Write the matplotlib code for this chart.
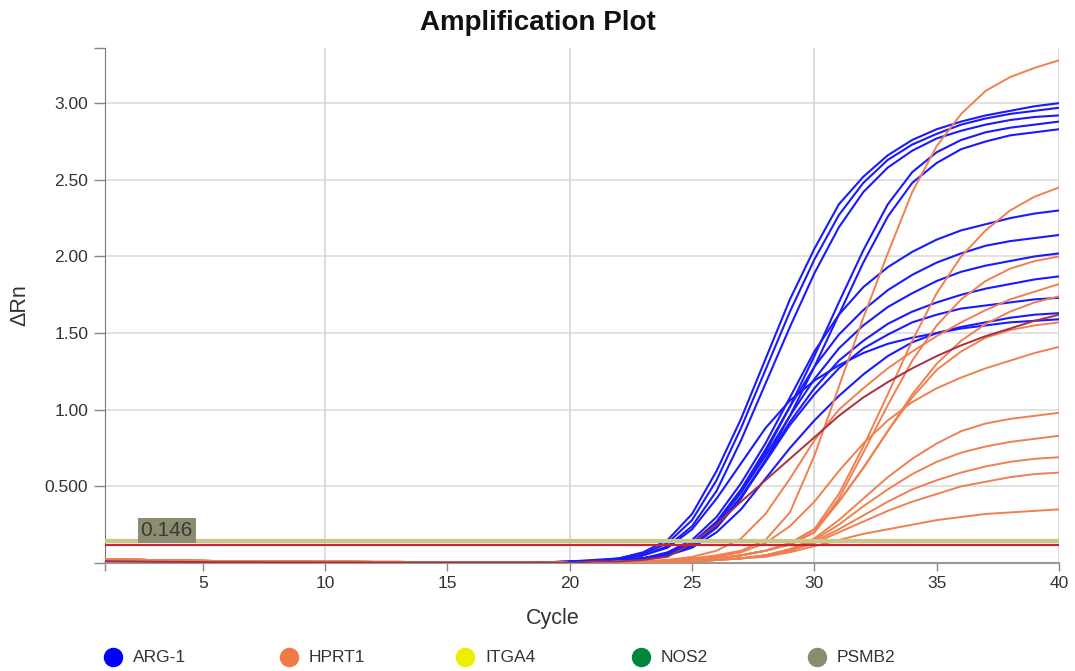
import numpy as np
import matplotlib
matplotlib.use('Agg')
import matplotlib.pyplot as plt
from matplotlib.lines import Line2D

plt.rcParams['font.family'] = ['Liberation Sans', 'DejaVu Sans']

# cycles 1..19 (flat baseline) and 20..40 (amplification)
early_cycles = list(range(1, 20))
late_cycles = list(range(20, 41))

early_blue = [0.012, 0.010, 0.008, 0.007, 0.006, 0.005, 0.005, 0.004, 0.004, 0.004,
              0.004, 0.003, 0.003, 0.003, 0.003, 0.003, 0.003, 0.003, 0.004]
early_orange = [0.025, 0.022, 0.019, 0.016, 0.014, 0.012, 0.011, 0.010, 0.009, 0.008,
                0.008, 0.007, 0.007, 0.006, 0.006, 0.005, 0.005, 0.005, 0.005]

# ARG-1 wells, cycles 20..40
arg1 = [
    [0.01, 0.02, 0.03, 0.07, 0.15, 0.32, 0.60, 0.94, 1.33, 1.72, 2.05, 2.34, 2.52, 2.66, 2.76, 2.83, 2.88, 2.92, 2.95, 2.98, 3.00],
    [0.01, 0.01, 0.03, 0.06, 0.13, 0.28, 0.54, 0.88, 1.26, 1.64, 1.98, 2.27, 2.48, 2.63, 2.73, 2.80, 2.86, 2.90, 2.93, 2.95, 2.97],
    [0.01, 0.01, 0.02, 0.05, 0.11, 0.24, 0.47, 0.80, 1.17, 1.54, 1.89, 2.19, 2.42, 2.58, 2.69, 2.77, 2.82, 2.86, 2.89, 2.91, 2.92],
    [0.00, 0.01, 0.02, 0.03, 0.06, 0.13, 0.26, 0.46, 0.72, 1.02, 1.35, 1.70, 2.04, 2.34, 2.55, 2.68, 2.76, 2.81, 2.84, 2.86, 2.88],
    [0.00, 0.01, 0.01, 0.03, 0.05, 0.11, 0.23, 0.42, 0.67, 0.96, 1.28, 1.62, 1.96, 2.26, 2.48, 2.61, 2.70, 2.75, 2.79, 2.81, 2.83],
    [0.00, 0.01, 0.02, 0.03, 0.07, 0.15, 0.30, 0.52, 0.78, 1.08, 1.38, 1.62, 1.80, 1.93, 2.03, 2.11, 2.17, 2.21, 2.25, 2.28, 2.30],
    [0.00, 0.01, 0.02, 0.03, 0.06, 0.13, 0.27, 0.48, 0.74, 1.02, 1.28, 1.49, 1.65, 1.78, 1.88, 1.96, 2.02, 2.07, 2.10, 2.12, 2.14],
    [0.00, 0.01, 0.01, 0.03, 0.06, 0.13, 0.26, 0.46, 0.70, 0.96, 1.20, 1.40, 1.55, 1.67, 1.76, 1.84, 1.90, 1.94, 1.97, 2.00, 2.02],
    [0.00, 0.01, 0.01, 0.03, 0.06, 0.12, 0.24, 0.43, 0.67, 0.92, 1.14, 1.32, 1.45, 1.56, 1.64, 1.70, 1.75, 1.79, 1.82, 1.85, 1.87],
    [0.00, 0.01, 0.01, 0.03, 0.06, 0.12, 0.24, 0.43, 0.66, 0.90, 1.10, 1.27, 1.40, 1.49, 1.57, 1.62, 1.66, 1.68, 1.70, 1.72, 1.73],
    [0.00, 0.01, 0.01, 0.02, 0.05, 0.10, 0.20, 0.35, 0.55, 0.75, 0.93, 1.09, 1.23, 1.35, 1.44, 1.50, 1.54, 1.57, 1.60, 1.62, 1.63],
    [0.00, 0.01, 0.02, 0.05, 0.10, 0.22, 0.42, 0.65, 0.88, 1.06, 1.19, 1.29, 1.37, 1.43, 1.47, 1.50, 1.53, 1.55, 1.57, 1.58, 1.59],
]

# HPRT1 wells, cycles 20..40
hprt1 = [
    [0.00, 0.00, 0.01, 0.01, 0.02, 0.03, 0.05, 0.08, 0.15, 0.33, 0.70, 1.15, 1.60, 2.02, 2.42, 2.72, 2.93, 3.08, 3.17, 3.23, 3.28],
    [0.00, 0.00, 0.00, 0.01, 0.01, 0.02, 0.03, 0.05, 0.08, 0.13, 0.22, 0.45, 0.76, 1.10, 1.45, 1.76, 2.00, 2.17, 2.30, 2.39, 2.45],
    [0.00, 0.00, 0.00, 0.01, 0.01, 0.02, 0.03, 0.05, 0.08, 0.12, 0.20, 0.42, 0.72, 1.03, 1.32, 1.55, 1.72, 1.84, 1.92, 1.97, 2.00],
    [0.00, 0.00, 0.01, 0.01, 0.02, 0.04, 0.08, 0.16, 0.32, 0.55, 0.80, 1.00, 1.14, 1.27, 1.38, 1.48, 1.57, 1.65, 1.72, 1.77, 1.82],
    [0.00, 0.00, 0.00, 0.01, 0.01, 0.02, 0.03, 0.05, 0.08, 0.12, 0.20, 0.40, 0.62, 0.86, 1.10, 1.30, 1.45, 1.56, 1.64, 1.70, 1.74],
    [0.00, 0.00, 0.00, 0.01, 0.01, 0.02, 0.03, 0.05, 0.08, 0.13, 0.22, 0.40, 0.62, 0.86, 1.08, 1.26, 1.38, 1.47, 1.52, 1.55, 1.57],
    [0.00, 0.00, 0.00, 0.01, 0.01, 0.02, 0.04, 0.07, 0.13, 0.24, 0.40, 0.60, 0.78, 0.93, 1.05, 1.14, 1.21, 1.27, 1.32, 1.37, 1.41],
    [0.00, 0.00, 0.00, 0.00, 0.01, 0.01, 0.02, 0.03, 0.05, 0.09, 0.16, 0.28, 0.42, 0.56, 0.68, 0.78, 0.86, 0.91, 0.94, 0.96, 0.98],
    [0.00, 0.00, 0.00, 0.00, 0.01, 0.01, 0.02, 0.03, 0.05, 0.09, 0.15, 0.25, 0.37, 0.48, 0.58, 0.66, 0.72, 0.76, 0.79, 0.81, 0.83],
    [0.00, 0.00, 0.00, 0.00, 0.01, 0.01, 0.02, 0.03, 0.05, 0.08, 0.14, 0.22, 0.31, 0.40, 0.48, 0.54, 0.59, 0.63, 0.66, 0.68, 0.69],
    [0.00, 0.00, 0.00, 0.00, 0.01, 0.01, 0.02, 0.03, 0.05, 0.08, 0.13, 0.20, 0.27, 0.34, 0.40, 0.45, 0.50, 0.53, 0.56, 0.58, 0.59],
    [0.00, 0.00, 0.00, 0.00, 0.01, 0.01, 0.02, 0.03, 0.04, 0.07, 0.11, 0.15, 0.19, 0.22, 0.25, 0.28, 0.30, 0.32, 0.33, 0.34, 0.35],
]

# the one highlighted (dark red) well
highlight = [0.00, 0.01, 0.01, 0.02, 0.04, 0.13, 0.25, 0.40, 0.54, 0.68, 0.82, 0.96, 1.08, 1.18, 1.27, 1.35, 1.42, 1.48, 1.53, 1.58, 1.62]

threshold_itga4 = 0.146
threshold_red = 0.12

targets = ['ARG-1', 'HPRT1', 'ITGA4', 'NOS2', 'PSMB2']
target_colors = ['#0000ff', '#f07b45', '#eeee00', '#00873f', '#8b8b72']

yticks = [0, 0.5, 1.0, 1.5, 2.0, 2.5, 3.0, 3.36]
yticklabels = ['', '0.500', '1.00', '1.50', '2.00', '2.50', '3.00', '']
xticks = [1, 5, 10, 15, 20, 25, 30, 35, 40]
xticklabels = ['', '5', '10', '15', '20', '25', '30', '35', '40']

fig = plt.figure(figsize=(10.75, 6.71), dpi=100)
ax = fig.add_axes([105/1075, 108/671, 954/1075, 515/671])

cycles = early_cycles + late_cycles
for vals in hprt1:
    ax.plot(cycles, early_orange + vals, color='#f08050', lw=1.4, zorder=3)
for vals in arg1:
    ax.plot(cycles, early_blue + vals, color='#1a1aff', lw=1.5, zorder=2)
ax.plot(cycles, early_blue + highlight, color='#a83040', lw=1.4, zorder=4)

ax.axhline(threshold_itga4, color='#c8c888', lw=3, zorder=5)
ax.axhline(threshold_red, color='#cc2233', lw=1.6, zorder=5)
ax.text(2.45, 0.15, '0.146', fontsize=15, color='#3a3a3a', ha='left', va='bottom',
        bbox=dict(boxstyle='square,pad=0.14', fc='#8c8c6e', ec='none'), zorder=6)

ax.set_xlim(1, 40)
ax.set_ylim(0, 3.36)
ax.set_yticks(yticks)
ax.set_yticklabels(yticklabels)
ax.set_xticks(xticks)
ax.set_xticklabels(xticklabels)
ax.tick_params(axis='y', labelsize=12.5, length=8, width=1, pad=4,
               colors='#888888', labelcolor='#333333')
ax.tick_params(axis='x', labelsize=12.5, length=6, width=1, pad=3,
               colors='#888888', labelcolor='#333333')

# grid: horizontal at every labelled y tick, vertical only every 10 cycles
for y in [0.5, 1.0, 1.5, 2.0, 2.5, 3.0]:
    ax.axhline(y, color='#dddddd', lw=1.2, zorder=0)
for x in [10, 20, 30, 40]:
    ax.axvline(x, color='#d5d5d5', lw=1.2, zorder=0)

for s in ['top', 'right']:
    ax.spines[s].set_visible(False)
ax.spines['left'].set_color('#777777')
ax.spines['bottom'].set_color('#999999')
ax.spines['bottom'].set_linewidth(1.5)

ax.set_xlabel('Cycle', fontsize=15.5, color='#333333')
ax.xaxis.set_label_coords((553 - 105) / 954, -45 / 515)
ax.set_ylabel('ΔRn', fontsize=15.5, color='#333333')
ax.yaxis.set_label_coords(-75 / 954, 0.5)
fig.text(538/1075, 1 - 23/671, 'Amplification Plot', fontsize=20, fontweight='bold',
         ha='center', va='center', color='#111111')

# legend row
for i, (name, col) in enumerate(zip(targets, target_colors)):
    cx = (113 + 176 * i) / 1075
    cy = 1 - 657 / 671
    fig.add_artist(Line2D([cx], [cy], marker='o', markersize=13, color=col,
                          markeredgecolor=col, transform=fig.transFigure))
    fig.text(cx + 20/1075, cy, name, fontsize=12.5, va='center', ha='left', color='#333333')

fig.savefig('out.png', dpi=100)
